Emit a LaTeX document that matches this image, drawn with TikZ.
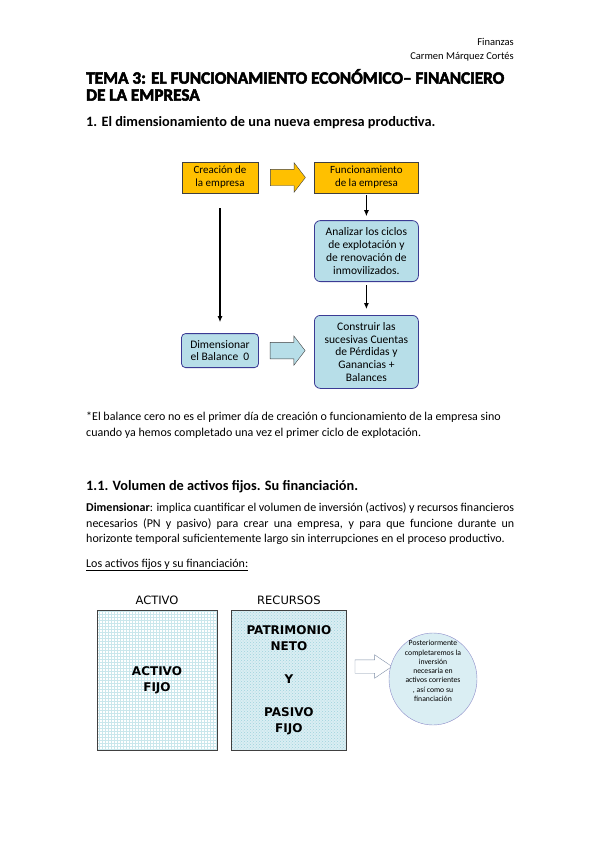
\documentclass[tikz,border=0pt]{standalone}
\usepackage{fontspec}
\setmainfont{Carlito}
\newfontfamily\verdfont{DejaVu Sans}
\newfontface\titlefont{Carlito Bold}[FakeBold=3]
\usetikzlibrary{
  arrows.meta,
  positioning,
  shapes.geometric,
  shapes.arrows,
  patterns
}
\definecolor{fzgold}{HTML}{FFC000}
\definecolor{fzsky}{HTML}{B7DEE8}
\definecolor{fzpale}{HTML}{DAEEF3}
\definecolor{fznavy}{HTML}{3B3B94}
\definecolor{fzlilac}{HTML}{8C8CC8}
\definecolor{fzgrid}{HTML}{9FD3DC}
\definecolor{fzdark}{HTML}{404040}
\definecolor{fzslate}{HTML}{8090A8}

\begin{document}
\begin{tikzpicture}[x=1pt, y=-1pt,
      hdr/.style={font=\fontsize{10.5}{12}\selectfont, inner sep=0pt},
      heading/.style={font=\fontsize{14.3}{16}\selectfont\bfseries, inner sep=0pt},
      body/.style={font=\fontsize{12}{15.3}\selectfont, inner sep=0pt},
      goldbox/.style={
        rectangle, minimum height=31pt,
        draw=fzdark, fill=fzgold, inner sep=1pt,
        font=\fontsize{11}{13}\selectfont, align=center
      },
      skybox/.style={
        rectangle, rounded corners=6pt, minimum width=104pt,
        draw=fznavy, thick, fill=fzsky, inner sep=1pt,
        font=\fontsize{11.5}{12.8}\selectfont, align=center
      },
      flatarrow/.style={
        single arrow, draw=fzdark, inner xsep=0pt, inner ysep=8pt,
        single arrow head extend=6.5pt, single arrow tip angle=105,
        minimum height=35pt
      },
      link/.style={-{Latex[length=6pt,width=5pt]}, line width=1.3pt, black},
      balhead/.style={font=\verdfont\fontsize{11.5}{13}\selectfont, inner sep=0pt},
      balbox/.style={rectangle, draw=fzdark, minimum height=140pt},
      baltext/.style={font=\verdfont\bfseries\fontsize{12}{16}\selectfont, align=center, inner sep=0pt}
    ]
      \useasboundingbox (0,0) rectangle (599,848);

      % Header
      \node[hdr, anchor=base east] (fin) at (514,46) {Finanzas};
      \node[hdr, anchor=base east] (autor) at (514,60) {Carmen Márquez Cortés};

      % Title
      \node[anchor=north west, inner sep=0pt, align=left,
            font=\titlefont\fontsize{17.2}{17}\selectfont] (tema) at (86,69)
        {TEMA 3: EL FUNCIONAMIENTO ECONÓMICO– FINANCIERO\\DE LA EMPRESA};

      \node[heading, anchor=base west] (sec1) at (86,127)
        {1. El dimensionamiento de una nueva empresa productiva.};

      % Flow chart
      \node[goldbox, minimum width=76pt] (crea) at (220,177.5) {Creación de\\la empresa};
      \node[goldbox, minimum width=104pt, right=56pt of crea] (func) {Funcionamiento\\de la empresa};
      \node[flatarrow, fill=fzgold, right=12pt of crea] (go1) {};

      \node[skybox, minimum height=61pt, below=27pt of func] (anal)
        {Analizar los ciclos\\de explotación y\\de renovación de\\inmovilizados.};
      \node[skybox, minimum height=73pt, below=33pt of anal] (cons)
        {Construir las\\sucesivas Cuentas\\de Pérdidas y\\Ganancias +\\Balances};
      \node[skybox, rounded corners=4pt, minimum width=77pt, minimum height=34pt,
            below=140pt of crea] (dim) {Dimensionar\\el Balance~~0};
      \node[flatarrow, fill=fzsky, right=11pt of dim] (go2) {};

      \draw[link, line width=0.9pt, shorten <=2pt, shorten >=4pt] (func) -- (anal);
      \draw[link, line width=0.9pt, shorten <=3pt, shorten >=6pt] (anal) -- (cons);
      \draw[link, shorten <=15pt, shorten >=11pt] (crea) -- (dim);

      % Footnote
      \node[body, anchor=north west, align=left] (nota) at (86,412)
        {*El balance cero no es el primer día de creación o funcionamiento de la empresa sino\\
         cuando ya hemos completado una vez el primer ciclo de explotación.};

      \node[heading, anchor=base west] (sec11) at (86,490)
        {1.1. Volumen de activos fijos. Su financiación.};

      \node[body, anchor=north west, text width=428pt, align=justify] (dimtxt) at (86,503)
        {\textbf{Dimensionar}: implica cuantificar el volumen de inversión (activos) y recursos financieros\linebreak
         necesarios (PN y pasivo) para crear una empresa, y para que funcione durante un\linebreak
         horizonte temporal suficientemente largo sin interrupciones en el proceso productivo.};

      \node[body, anchor=base west] (sub) at (86,567) {\underline{Los activos fijos y su financiación:}};

      % Balance
      \node[balbox, minimum width=120pt, fill=white,
            pattern=grid, pattern color=fzgrid!55] (act) at (157,680) {};
      \node[baltext] (actfijo) at (act.center) {ACTIVO\\FIJO};
      \node[balbox, minimum width=115pt, right=14pt of act,
            preaction={fill=fzpale}, pattern=crosshatch dots, pattern color=fzgrid]
        (rec) {};
      \node[baltext] (recpn) at (rec.center) {PATRIMONIO\\NETO\\[17pt]Y\\[17pt]PASIVO\\FIJO};
      \node[balhead, above=5pt of act] (acttit) {ACTIVO};
      \node[balhead, above=5pt of rec] (rectit) {RECURSOS};

      \node[single arrow, draw=fzslate, fill=white, inner xsep=0pt, inner ysep=6.5pt,
            single arrow head extend=5pt, single arrow tip angle=68,
            minimum height=37pt] (go3) at (368.5,666.5) {};

      \node[ellipse, draw=fzlilac, fill=fzpale, minimum width=88pt, minimum height=92pt,
            inner sep=0pt] (post) at (433,679) {};
      \node[font=\fontsize{7.7}{9.3}\selectfont, align=center, inner sep=0pt]
        (posttxt) at ([yshift=8pt]post.center)
        {Posteriormente\\completaremos la\\inversión\\necesaria en\\activos corrientes\\, así como su\\financiación};
    \end{tikzpicture}
\end{document}
